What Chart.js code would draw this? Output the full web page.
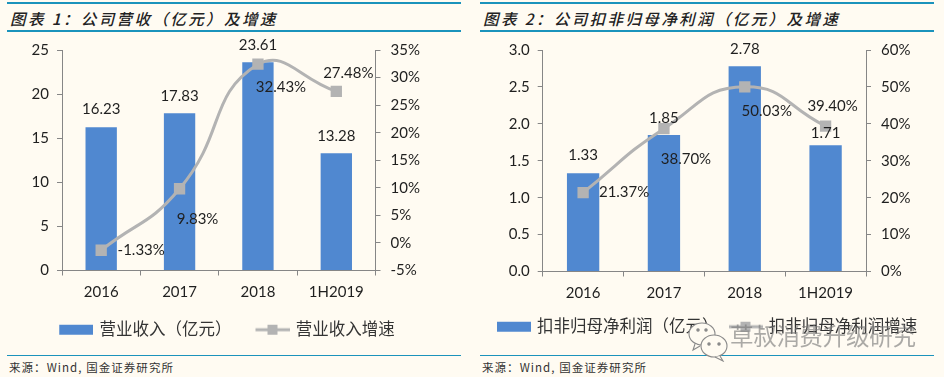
<!DOCTYPE html>
<html><head><meta charset="utf-8">
<script src="https://cdn.jsdelivr.net/npm/chart.js@4"></script>
<style>
html,body{margin:0;padding:0;background:#FFFBF2;overflow:hidden}
#page{position:relative;width:944px;height:377px;background:#FFFBF2;font-family:Lato,"Noto Sans CJK SC",sans-serif;color:#222}
.rule{position:absolute;background:#1B93BC}
.title{position:absolute;top:5px;font:italic 500 15.5px "Noto Sans CJK SC",sans-serif;letter-spacing:2.4px;line-height:26px;white-space:nowrap;color:#222}
.src{position:absolute;top:358px;font:11.5px "Noto Sans CJK SC",sans-serif;line-height:18px;letter-spacing:1.05px;white-space:nowrap;color:#333}
.holder{position:absolute;top:0;height:377px}
#wm{position:absolute;left:730px;top:320px;font:400 23.5px "Noto Sans CJK SC",sans-serif;color:rgba(120,120,120,.62);letter-spacing:-.3px;line-height:30px;white-space:nowrap}
#wmi{position:absolute;left:686px;top:320px}
</style></head><body>
<div id="page">
<div class="rule" style="left:7px;top:2px;width:454px;height:2px"></div>
<div class="rule" style="left:7px;top:30px;width:454px;height:2px"></div>
<div class="rule" style="left:7px;top:355px;width:454px;height:1px"></div>
<div class="rule" style="left:480px;top:2px;width:454px;height:2px"></div>
<div class="rule" style="left:480px;top:30px;width:454px;height:2px"></div>
<div class="rule" style="left:480px;top:355px;width:454px;height:1px"></div>
<div class="title" style="left:10px">图表 1：公司营收（亿元）及增速</div>
<div class="title" style="left:483px">图表 2：公司扣非归母净利润（亿元）及增速</div>
<div class="src" style="left:9px">来源：Wind, 国金证券研究所</div>
<div class="src" style="left:482px">来源：Wind, 国金证券研究所</div>
<div class="holder" style="left:0;width:442px"><canvas id="c1"></canvas></div>
<div class="holder" style="left:472px;width:472px"><canvas id="c2"></canvas></div>
<svg id="wmi" width="44" height="42" viewBox="0 0 44 42" fill="none" stroke="#8a8a8a" stroke-width="1.1">
<ellipse cx="16" cy="14" rx="13" ry="11" fill="#FFFBF2"/><path d="M9 24l-2 6 7-4" fill="#FFFBF2"/>
<ellipse cx="28" cy="26" rx="13" ry="11" fill="#FFFBF2"/><path d="M34 36l3 5-8-4" fill="#FFFBF2"/>
<circle cx="23" cy="24" r="1.2" fill="#8a8a8a"/><circle cx="33" cy="24" r="1.2" fill="#8a8a8a"/>
<circle cx="12" cy="10" r="1.2" fill="#8a8a8a"/><circle cx="20" cy="10" r="1.2" fill="#8a8a8a"/>
</svg>
<div id="wm">草叔消费升级研究</div>
</div>
<script>
const categories = ['2016', '2017', '2018', '1H2019'];

const revenue = [16.23, 17.83, 23.61, 13.28];
const revenueGrowth = [-1.33, 9.83, 32.43, 27.48];
const revenueNames = ['营业收入（亿元）', '营业收入增速'];

const profit = [1.33, 1.85, 2.78, 1.71];
const profitGrowth = [21.37, 38.70, 50.03, 39.40];
const profitNames = ['扣非归母净利润（亿元）', '扣非归母净利润增速'];

const BAR = '#5088D0', LINE = '#B3B3B3', AXIS = '#868686', TEXT = '#1f1f1f';
const FONT = 'Lato, "Noto Sans CJK SC", sans-serif';

function swatch(kind, pad) {
  const c = document.createElement('canvas');
  c.width = 34 + pad; c.height = 12;
  const x = c.getContext('2d');
  if (kind === 'bar') { x.fillStyle = BAR; x.fillRect(pad, 1, 34, 10); }
  else {
    x.strokeStyle = LINE; x.lineWidth = 3;
    x.beginPath(); x.moveTo(pad, 6); x.lineTo(pad + 34, 6); x.stroke();
    x.fillStyle = LINE; x.fillRect(pad + 12, 1, 10, 10);
  }
  return c;
}

const labelPlugin = {
  id: 'valueLabels',
  afterDatasetsDraw(chart, _a, o) {
    const ctx = chart.ctx;
    ctx.save();
    ctx.font = '15px ' + FONT;
    ctx.fillStyle = TEXT;
    ctx.textAlign = 'center';
    ctx.textBaseline = 'middle';
    chart.data.datasets.forEach((ds, i) => {
      const meta = chart.getDatasetMeta(i);
      ds.data.forEach((v, k) => {
        const el = meta.data[k];
        const off = o.offsets[i][k];
        const txt = ds.type === 'line' ? v.toFixed(2) + '%' : v.toFixed(2);
        ctx.fillText(txt, el.x + off[0], el.y + off[1]);
      });
    });
    ctx.restore();
  }
};

function build(id, cfg) {
  return new Chart(document.getElementById(id), {
    data: {
      labels: categories,
      datasets: [
        { type: 'bar', label: cfg.names[0], data: cfg.bars, yAxisID: 'y', backgroundColor: BAR,
          barPercentage: 0.4, categoryPercentage: 1, order: 2 },
        { type: 'line', label: cfg.names[1], data: cfg.growth, yAxisID: 'y2', borderColor: LINE, borderWidth: 3,
          backgroundColor: LINE, tension: 0.5, pointStyle: 'rect', pointRadius: 8, pointBorderWidth: 0,
          pointBackgroundColor: LINE, order: 1 }
      ]
    },
    options: {
      responsive: true, maintainAspectRatio: false, animation: false,
      layout: { padding: { top: 50, bottom: cfg.padBottom, left: 0, right: 0 } },
      plugins: {
        tooltip: { enabled: false },
        valueLabels: { offsets: cfg.offsets },
        legend: {
          position: 'bottom',
          labels: {
            usePointStyle: true, pointStyleWidth: 30 + cfg.swatchPad, padding: 12,
            color: '#333', font: { family: FONT, size: 16.5 },
            generateLabels: () => [
              { text: cfg.names[0], pointStyle: swatch('bar', cfg.swatchPad), fontColor: '#333', lineWidth: 0, strokeStyle: 'transparent', fillStyle: BAR, datasetIndex: 0 },
              { text: cfg.names[1], pointStyle: swatch('line', cfg.swatchPad), fontColor: '#333', lineWidth: 0, strokeStyle: 'transparent', fillStyle: LINE, datasetIndex: 1 }
            ]
          }
        }
      },
      scales: {
        x: {
          offset: true,
          border: { color: AXIS, width: 1 },
          grid: { offset: true, drawOnChartArea: false, color: AXIS, tickLength: 5 },
          ticks: { color: TEXT, font: { family: FONT, size: 15 }, padding: 8, maxRotation: 0 },
          afterFit(s) { s.height = cfg.xH; }
        },
        y: {
          position: 'left', min: cfg.yMin, max: cfg.yMax,
          border: { color: AXIS, width: 1 },
          grid: { drawOnChartArea: false, color: AXIS, tickLength: 5 },
          ticks: { stepSize: cfg.yStep, color: TEXT, font: { family: FONT, size: 15 }, padding: 8,
            callback: v => cfg.yDigits ? v.toFixed(cfg.yDigits) : String(v) },
          afterFit(s) { s.width = cfg.leftW; }
        },
        y2: {
          position: 'right', min: cfg.rMin, max: cfg.rMax,
          border: { color: AXIS, width: 1 },
          grid: { drawOnChartArea: false, color: AXIS, tickLength: 5 },
          ticks: { stepSize: cfg.rStep, color: TEXT, font: { family: FONT, size: 15 }, padding: 10, callback: v => v + '%' },
          afterFit(s) { s.width = cfg.rightW; }
        }
      }
    },
    plugins: [labelPlugin]
  });
}

build('c1', {
  names: revenueNames, bars: revenue, growth: revenueGrowth,
  yMin: 0, yMax: 25, yStep: 5, yDigits: 0, rMin: -5, rMax: 35, rStep: 5,
  leftW: 62, rightW: 66.5, swatchPad: 14, padBottom: 29, xH: 39,
  offsets: [
    [[0, -18], [0, -17], [0, -17], [0, -17]],
    [[40, 0], [18, 30], [23, 23], [12, -18]]
  ]
});
build('c2', {
  names: profitNames, bars: profit, growth: profitGrowth,
  yMin: 0, yMax: 3, yStep: 0.5, yDigits: 1, rMin: 0, rMax: 60, rStep: 10,
  leftW: 70.7, rightW: 78, swatchPad: 0, padBottom: 32, xH: 35,
  offsets: [
    [[0, -18], [0, -17], [0, -17], [0, -12]],
    [[41, 0], [22, 31], [22, 24], [7, -20]]
  ]
});
</script>
</body></html>
